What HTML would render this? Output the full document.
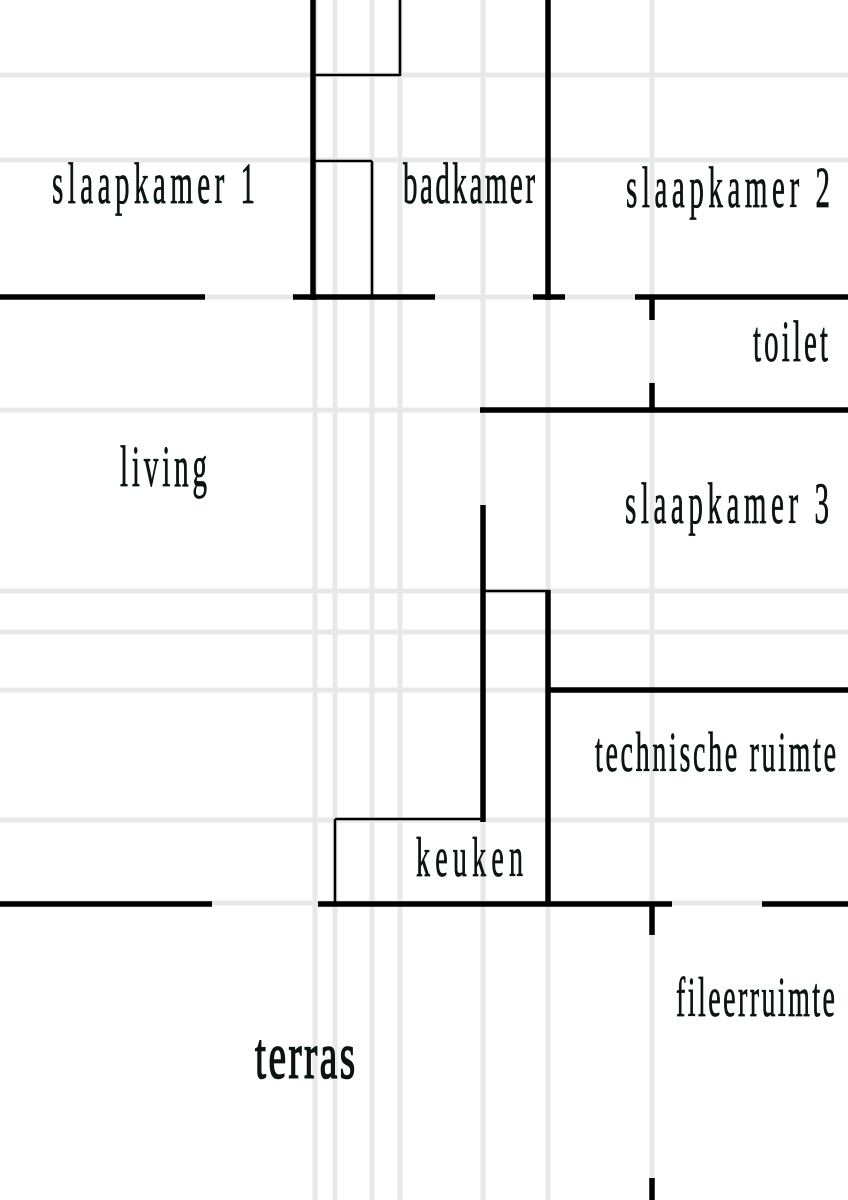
<!DOCTYPE html>
<html><head><meta charset="utf-8"><style>
html,body{margin:0;padding:0;background:#fff;}
svg{display:block;}
text{font-family:"Liberation Serif",serif;fill:#0a1410;stroke:#0a1410;stroke-width:0.8;}
</style></head><body>
<svg width="848" height="1200" viewBox="0 0 848 1200" xmlns="http://www.w3.org/2000/svg">
<rect width="848" height="1200" fill="#fff"/>
<g stroke="#e8e8e8" stroke-width="5" fill="none">
<line x1="0" y1="75" x2="848" y2="75"/>
<line x1="0" y1="160" x2="848" y2="160"/>
<line x1="0" y1="297" x2="848" y2="297"/>
<line x1="0" y1="410" x2="848" y2="410"/>
<line x1="0" y1="591" x2="848" y2="591"/>
<line x1="0" y1="632" x2="848" y2="632"/>
<line x1="0" y1="690" x2="848" y2="690"/>
<line x1="0" y1="820" x2="848" y2="820"/>
<line x1="0" y1="903" x2="848" y2="903"/>
<line x1="315" y1="0" x2="315" y2="1200"/>
<line x1="335" y1="0" x2="335" y2="1200"/>
<line x1="372" y1="0" x2="372" y2="1200"/>
<line x1="400" y1="0" x2="400" y2="1200"/>
<line x1="483" y1="0" x2="483" y2="1200"/>
<line x1="548" y1="0" x2="548" y2="1200"/>
<line x1="652" y1="0" x2="652" y2="1200"/>
</g>
<g stroke="#000" fill="none">
<g stroke-width="5.5">
<line x1="313" y1="0" x2="313" y2="300"/>
<line x1="548" y1="0" x2="548" y2="300"/>
<line x1="0" y1="297" x2="205" y2="297"/>
<line x1="293" y1="297" x2="435" y2="297"/>
<line x1="533" y1="297" x2="565" y2="297"/>
<line x1="635" y1="297" x2="848" y2="297"/>
<line x1="652" y1="297" x2="652" y2="320"/>
<line x1="652" y1="383" x2="652" y2="412"/>
<line x1="480" y1="410" x2="848" y2="410"/>
<line x1="483" y1="505" x2="483" y2="822"/>
<line x1="548" y1="590" x2="548" y2="906"/>
<line x1="548" y1="690" x2="848" y2="690"/>
<line x1="0" y1="904" x2="212" y2="904"/>
<line x1="318" y1="904" x2="672" y2="904"/>
<line x1="762" y1="904" x2="848" y2="904"/>
<line x1="652" y1="903" x2="652" y2="935"/>
<line x1="652" y1="1178" x2="652" y2="1200"/>
</g>
<g stroke-width="2.5">
<line x1="400" y1="0" x2="400" y2="76"/>
<line x1="313" y1="75" x2="400" y2="75"/>
<line x1="313" y1="161" x2="372" y2="161"/>
<line x1="372" y1="161" x2="372" y2="297"/>
<line x1="483" y1="591" x2="550" y2="591"/>
<line x1="335" y1="819" x2="483" y2="819"/>
<line x1="335" y1="819" x2="335" y2="904"/>
</g>
</g>
<g>
<text transform="translate(52,203) scale(0.5,1)" font-size="58" textLength="406" lengthAdjust="spacing">slaapkamer 1</text>
<text transform="translate(403,203) scale(0.5,1)" font-size="58" textLength="264" lengthAdjust="spacing">badkamer</text>
<text transform="translate(626,207) scale(0.5,1)" font-size="58" textLength="408" lengthAdjust="spacing">slaapkamer 2</text>
<text transform="translate(753,361) scale(0.5,1)" font-size="58" textLength="150" lengthAdjust="spacing">toilet</text>
<text transform="translate(120,486) scale(0.5,1)" font-size="58" textLength="174" lengthAdjust="spacing">living</text>
<text transform="translate(625,523) scale(0.5,1)" font-size="58" textLength="408" lengthAdjust="spacing">slaapkamer 3</text>
<text transform="translate(595,771) scale(0.5,1)" font-size="56" textLength="482" lengthAdjust="spacing">technische ruimte</text>
<text transform="translate(416,876) scale(0.5,1)" font-size="56" textLength="214" lengthAdjust="spacing">keuken</text>
<text transform="translate(676,1016) scale(0.5,1)" font-size="56" textLength="318" lengthAdjust="spacing">fileerruimte</text>
<text transform="translate(255,1078) scale(0.6,1)" font-size="66" textLength="167" lengthAdjust="spacing" style="stroke-width:1.6">terras</text>
</g>
</svg>
</body></html>
